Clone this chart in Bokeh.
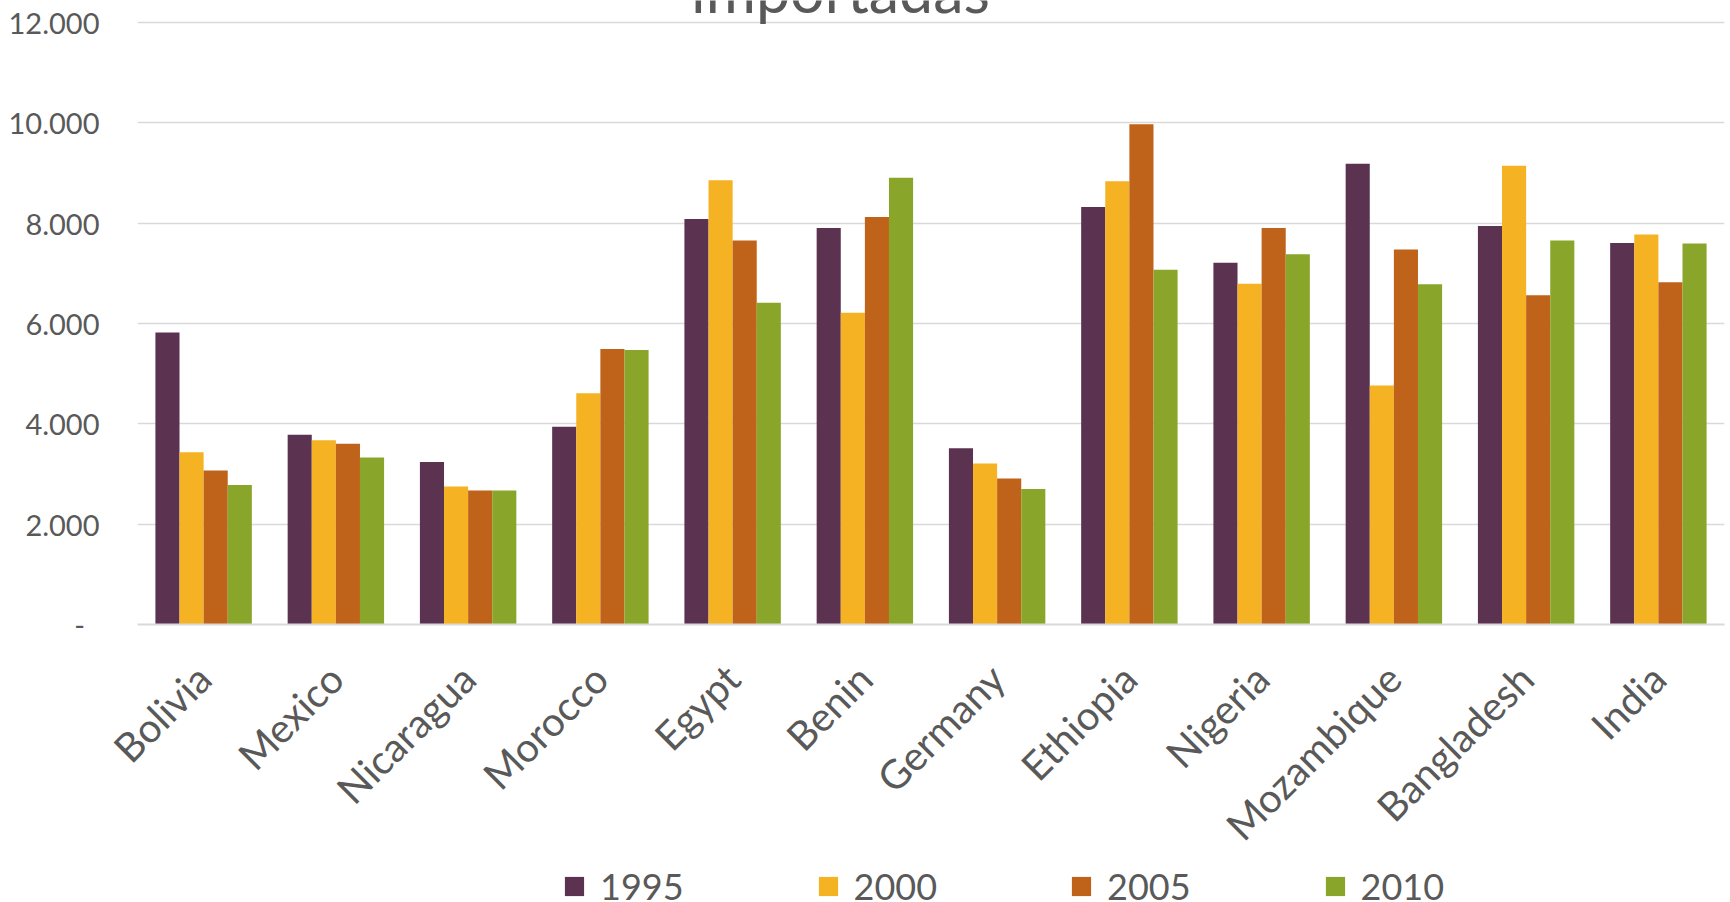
import math

from bokeh.embed import file_html
from bokeh.layouts import column
from bokeh.models import (ColumnDataSource, FactorRange, FixedTicker, Label,
                          Legend, LegendItem, Range1d)
from bokeh.plotting import figure
from bokeh.resources import INLINE
from bokeh.transform import dodge

# --- data -----------------------------------------------------------------
countries = ["Bolivia", "Mexico", "Nicaragua", "Morocco", "Egypt", "Benin",
             "Germany", "Ethiopia", "Nigeria", "Mozambique", "Bangladesh", "India"]
years = ["1995", "2000", "2005", "2010"]

v1995 = [5820, 3780, 3240, 3940, 8080, 7900, 3510, 8320, 7210, 9180, 7940, 7600]
v2000 = [3430, 3670, 2750, 4610, 8850, 6210, 3210, 8830, 6790, 4760, 9140, 7770]
v2005 = [3070, 3600, 2670, 5490, 7650, 8120, 2910, 9970, 7900, 7470, 6560, 6820]
v2010 = [2780, 3330, 2670, 5470, 6410, 8900, 2700, 7070, 7380, 6780, 7650, 7590]

y_ticks = [0, 2000, 4000, 6000, 8000, 10000, 12000]
y_tick_labels = ["-\u2002", "2.000", "4.000", "6.000", "8.000", "10.000", "12.000"]

title_text = "importadas"

# --- style ----------------------------------------------------------------
FONT = "Lato"
TEXT = "#595959"
GRID = "#d9d9d9"
colors = ["#5B3350", "#F5B223", "#BF631A", "#8AA62A"]

source = ColumnDataSource(dict(country=countries, y1995=v1995, y2000=v2000,
                               y2005=v2005, y2010=v2010))

x_range = FactorRange(*countries, range_padding=0)

# --- main bar chart -------------------------------------------------------
# the value range runs a little past the top tick so the title line and the
# top tick label have room inside the frame
p = figure(frame_width=1587, frame_height=624, output_backend="svg",
           toolbar_location=None, x_range=x_range,
           y_range=Range1d(0, 12434),
           min_border_left=137, min_border_right=6,
           min_border_top=0, min_border_bottom=0)
p.outline_line_color = None
p.background_fill_color = "white"
p.border_fill_color = "white"

bar_w = 0.1823
offsets = [-1.5 * bar_w, -0.5 * bar_w, 0.5 * bar_w, 1.5 * bar_w]
for yr, col, off in zip(years, colors, offsets):
    p.vbar(x=dodge("country", off, range=x_range), top="y" + yr,
           width=bar_w, source=source, fill_color=col, line_color=None)

# grid
p.xgrid.grid_line_color = None
p.ygrid.grid_line_color = GRID
p.ygrid.grid_line_width = 1.7

# y axis
p.yaxis.ticker = FixedTicker(ticks=y_ticks)
p.yaxis.major_label_overrides = {t: s for t, s in zip(y_ticks, y_tick_labels)}
p.yaxis.axis_line_color = None
p.yaxis.major_tick_line_color = None
p.yaxis.minor_tick_line_color = None
p.yaxis.major_tick_out = 0
p.yaxis.major_tick_in = 0
p.yaxis.major_label_standoff = 38
p.yaxis.major_label_text_font = FONT
p.yaxis.major_label_text_font_size = "29px"
p.yaxis.major_label_text_color = TEXT

# x axis
p.xaxis.axis_line_color = GRID
p.xaxis.axis_line_width = 2
p.xaxis.major_tick_line_color = None
p.xaxis.minor_tick_line_color = None
p.xaxis.major_tick_out = 0
p.xaxis.major_tick_in = 0
p.xaxis.major_label_orientation = math.pi / 4
p.xaxis.major_label_standoff = 47
p.xaxis.major_label_text_font = FONT
p.xaxis.major_label_text_font_size = "40px"
p.xaxis.major_label_text_color = TEXT

# title (second line, cut by the page top)
p.add_layout(Label(x=5.316, y=12660, text=title_text, text_align="center",
                   text_baseline="alphabetic", text_font=FONT,
                   text_font_size="61px", text_color=TEXT))

# --- legend band ------------------------------------------------------------
lg = figure(width=1730, height=35, output_backend="svg",
            toolbar_location=None, x_range=x_range,
            y_range=Range1d(0, 1),
            x_axis_location=None, y_axis_location=None,
            min_border_left=137, min_border_right=6,
            min_border_top=0, min_border_bottom=0)
lg.outline_line_color = None
lg.grid.visible = False
lg.border_fill_color = "white"
lg.background_fill_color = "white"

swatches = [lg.vbar(x=[countries[0]], top=[0], width=0.1, fill_color=col,
                    line_color=None) for col in colors]

legend = Legend(items=[LegendItem(label=yr, renderers=[r])
                       for yr, r in zip(years, swatches)],
                orientation="horizontal", location=(425, -4),
                padding=0, margin=0, spacing=132,
                glyph_width=24, glyph_height=24, label_standoff=14,
                label_text_font=FONT, label_text_font_size="36px",
                label_text_color=TEXT, border_line_color=None,
                background_fill_alpha=0)
lg.add_layout(legend, "center")

page = column(p, lg, spacing=0)
open("out.html", "w").write(file_html(page, INLINE))
